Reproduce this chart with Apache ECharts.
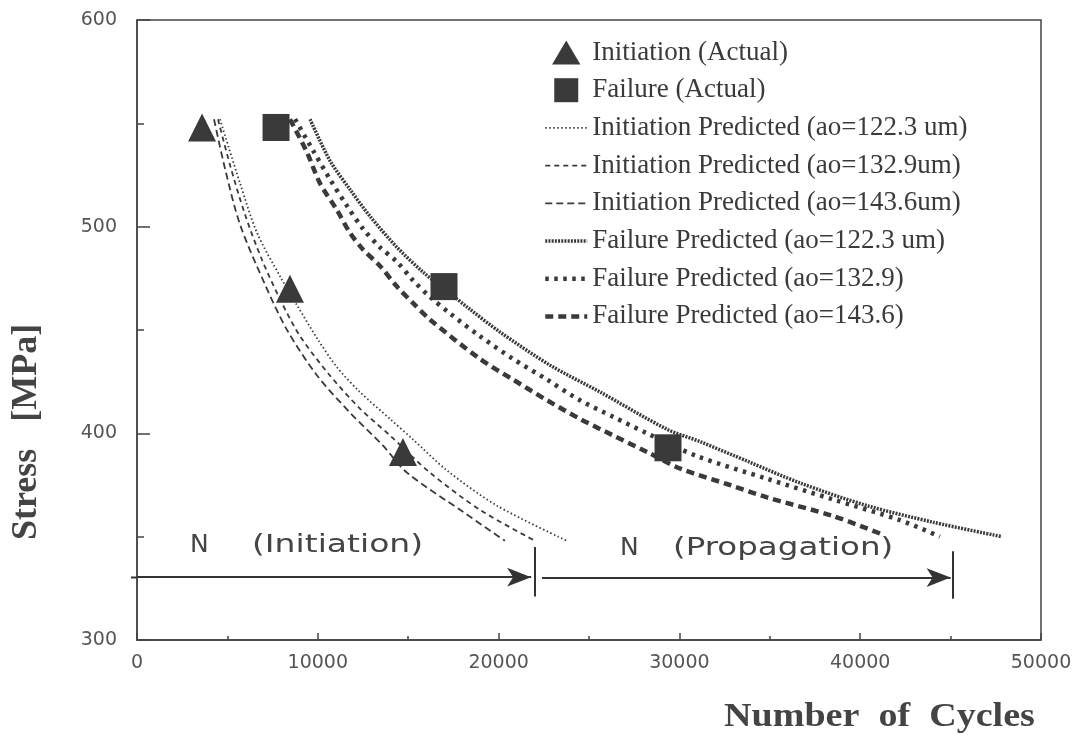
<!DOCTYPE html>
<html>
<head>
<meta charset="utf-8">
<script src="https://cdn.jsdelivr.net/npm/echarts@6/dist/echarts.min.js"></script>
<style>
  html, body { margin: 0; padding: 0; background: #fff; }
  #chart { width: 1083px; height: 735px; }
</style>
</head>
<body>
<div id="chart"></div>
<script>
// measured points (cycles, stress MPa)
const initActual = [[3600, 548], [8460, 470], [14710, 391]];
const failActual = [[7690, 548], [16980, 471], [29370, 393]];

const initPred1223 = [[4590, 552], [5700, 521], [6640, 497], [7910, 476], [8850, 462], [9960, 446],
  [11060, 432], [12330, 420], [13990, 407], [15270, 397], [17150, 382], [19910, 365], [23780, 348]];
const initPred1329 = [[4480, 552], [5140, 530], [5970, 506], [6910, 484], [8020, 463], [9020, 447],
  [10670, 428], [12330, 412], [13990, 399], [16200, 381], [18970, 363], [22010, 348]];
const initPred1436 = [[4260, 552], [4870, 528], [5700, 501], [7080, 472], [8300, 450], [9960, 428],
  [11780, 410], [13610, 394], [14930, 381], [18030, 362], [20350, 348]];

const failPred1223 = [[9570, 552], [10670, 532], [11780, 518], [12890, 505], [14380, 490], [15820, 478],
  [16980, 470], [18420, 460], [20080, 449], [22840, 433], [25610, 420], [29310, 402], [31140, 396],
  [33900, 386], [36670, 376], [40380, 365], [44030, 357], [47840, 350]];
const failPred1329 = [[8740, 552], [9730, 537], [10670, 523], [11620, 510], [12500, 499], [13440, 490],
  [14380, 483], [15270, 474], [16210, 466], [17310, 458], [18970, 447], [20800, 436], [22680, 426],
  [24500, 416], [26330, 408], [28210, 400], [30970, 389], [34850, 378], [38500, 368], [42200, 358], [44410, 350]];
const failPred1436 = [[8460, 552], [9400, 536], [10120, 521], [11060, 508], [11780, 497], [12500, 489],
  [13440, 481], [14380, 471], [15270, 463], [16210, 455], [18970, 436], [20800, 426], [22680, 416],
  [24500, 407], [26330, 399], [28210, 391], [30030, 383], [32800, 375], [34850, 369], [38500, 360], [41100, 351.5]];

const legendNames = [
  "Initiation (Actual)",
  "Failure (Actual)",
  "Initiation Predicted (ao=122.3 um)",
  "Initiation Predicted (ao=132.9um)",
  "Initiation Predicted (ao=143.6um)",
  "Failure Predicted (ao=122.3 um)",
  "Failure Predicted (ao=132.9)",
  "Failure Predicted (ao=143.6)"
];

const ink = "#3a3a3a";
const triIcon = "path://M13,0L26,22L0,22Z";
const sqIcon = "path://M0,0H24V24H0Z";

// line width and dash of each predicted curve, in legend order
const predWidths = [1.8, 1.8, 1.8, 3.5, 4.5, 4.5];
const predDashes = [[1.5, 2.5], [5, 4], [7, 4], [2, 1.2], [3.5, 5.5], [8, 5]];

function predLine(i, data) {
  return {
    name: legendNames[i + 2],
    type: "line",
    data: data,
    smooth: 0.3,
    showSymbol: false,
    symbol: "none",
    silent: true,
    lineStyle: { color: ink, width: predWidths[i], type: predDashes[i] },
    itemStyle: { color: ink },
    z: 2
  };
}

// legend: shapes for the measured points, bare line samples for the predictions
const legendData = legendNames.map(function (n, i) {
  if (i === 0) return { name: n, icon: triIcon };
  if (i === 1) return { name: n, icon: sqIcon };
  return { name: n, itemStyle: { opacity: 0 },
    lineStyle: { width: predWidths[i - 2], type: predDashes[i - 2], color: ink } };
});

const chart = echarts.init(document.getElementById("chart"));
chart.setOption({
  animation: false,
  backgroundColor: "#fff",
  grid: { left: 137, right: 42, top: 20, bottom: 95, show: true, borderColor: "#444", borderWidth: 1.5 },
  xAxis: {
    type: "value", min: 0, max: 50000, interval: 10000,
    axisLine: { lineStyle: { color: "#444", width: 1.5 } },
    axisTick: { inside: true, length: 7, lineStyle: { color: "#444", width: 1.5 } },
    minorTick: { show: true, splitNumber: 2, length: 4, lineStyle: { color: "#444", width: 1.5 } },
    splitLine: { show: false },
    axisLabel: { margin: 14, fontSize: 19, fontFamily: "DejaVu Sans", color: "#555",
      formatter: function (v) { return String(v); } }
  },
  yAxis: {
    type: "value", min: 300, max: 600, interval: 100,
    axisLine: { lineStyle: { color: "#444", width: 1.5 } },
    axisTick: { inside: true, length: 13, lineStyle: { color: "#444", width: 1.5 } },
    minorTick: { show: true, splitNumber: 2, length: 7, lineStyle: { color: "#444", width: 1.5 } },
    splitLine: { show: false },
    axisLabel: { margin: 20, fontSize: 19, fontFamily: "DejaVu Sans", color: "#555" }
  },
  legend: {
    orient: "vertical", left: 538, top: 34,
    itemWidth: 42, itemHeight: 24, itemGap: 10.7,
    data: legendData,
    textStyle: { fontFamily: "Liberation Serif", fontSize: 27, color: ink }
  },
  graphic: [
    { type: "text", left: 190, top: 533, style: { text: "N", font: "25px DejaVu Sans", fill: "#444" } },
    { type: "text", x: 252, y: 533, scaleX: 1.32, style: { text: "(Initiation)", font: "25px DejaVu Sans", fill: "#444" } },
    { type: "text", left: 620, top: 536, style: { text: "N", font: "25px DejaVu Sans", fill: "#444" } },
    { type: "text", x: 673, y: 536, scaleX: 1.3, style: { text: "(Propagation)", font: "25px DejaVu Sans", fill: "#444" } },
    { type: "text", x: 9, y: 540, rotation: Math.PI / 2,
      style: { text: "Stress   [MPa]", font: "bold 36px Liberation Serif", fill: "#444", textVerticalAlign: "top" } },
    { type: "text", x: 724, y: 700, scaleX: 1.12,
      style: { text: "Number  of  Cycles", font: "bold 34px Liberation Serif", fill: "#444" } },
    // the initiation arrow starts a little left of the y axis
    { type: "line", shape: { x1: 131, y1: 577.5, x2: 138, y2: 577.5 }, style: { stroke: "#333", lineWidth: 2 } }
  ],
  series: [
    { name: legendNames[0], type: "scatter", data: initActual, symbol: "triangle", symbolSize: 28,
      itemStyle: { color: ink, opacity: 1 }, z: 4 },
    { name: legendNames[1], type: "scatter", data: failActual, symbol: "rect", symbolSize: 27,
      itemStyle: { color: ink, opacity: 1 }, z: 4 },
    predLine(0, initPred1223),
    predLine(1, initPred1329),
    predLine(2, initPred1436),
    predLine(3, failPred1223),
    predLine(4, failPred1329),
    predLine(5, failPred1436),
    {
      name: "arrows", type: "line", data: [], clip: false, silent: true,
      markLine: {
        silent: true, animation: false, label: { show: false },
        symbol: ["none", "none"],
        lineStyle: { color: "#333", width: 2, type: "solid" },
        data: [
          [{ coord: [0, 330.4], symbol: "none" }, { coord: [21800, 330.4], symbol: "arrow", symbolSize: [14, 24] }],
          [{ coord: [22000, 345] }, { coord: [22000, 321] }],
          [{ coord: [22400, 330.2], symbol: "none" }, { coord: [45000, 330.2], symbol: "arrow", symbolSize: [14, 24] }],
          [{ coord: [45100, 343] }, { coord: [45100, 320] }]
        ]
      }
    }
  ]
});
</script>
</body>
</html>
